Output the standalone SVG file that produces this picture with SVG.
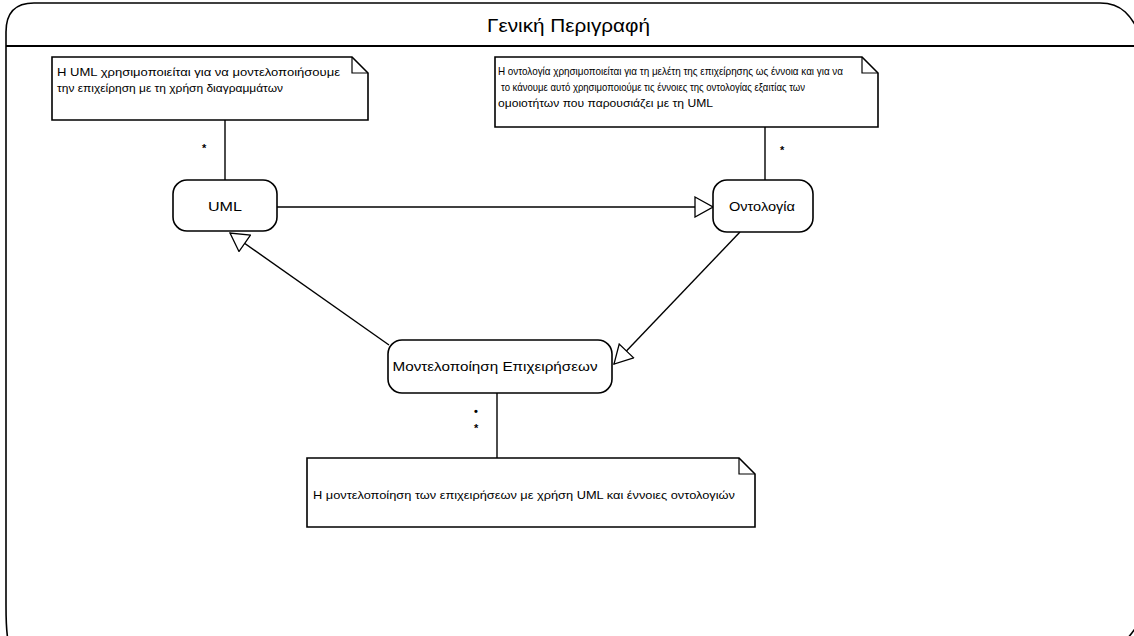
<svg xmlns="http://www.w3.org/2000/svg" width="1134" height="636" viewBox="0 0 1134 636">
  <style>
    .frame { fill: none; stroke: #000; stroke-width: 1.6; }
    .note { fill: #fff; stroke: #000; stroke-width: 1.6; }
    .fold { fill: none; stroke: #000; stroke-width: 1.2; }
    .node { fill: #fff; stroke: #000; stroke-width: 1.6; }
    .link { fill: none; stroke: #000; stroke-width: 1.4; }
    .txt { font-family: "Liberation Sans", Arial, sans-serif; fill: #000; }
    .ntxt { font-size: 11.5px; }
    .ctxt { font-size: 13.5px; text-anchor: middle; }
    .mult { font-family: "Liberation Sans", Arial, sans-serif; font-size: 11px; font-weight: bold; }
  </style>
  <defs>
    <marker id="gen" viewBox="0 0 20 22" refX="19" refY="11" markerWidth="20" markerHeight="22" markerUnits="userSpaceOnUse" orient="auto">
      <path d="M1,1 L19,11 L1,21 Z" fill="#fff" stroke="#000" stroke-width="1.3"/>
    </marker>
  </defs>

  <rect width="1134" height="636" fill="#fff"/>

  <!-- outer frame with title compartment -->
  <g id="frame">
    <path class="frame" d="M8,640 Q6,630 6,605 L6,32 Q6,3 34,3 L1100,3 C1120,3 1132,12 1146,48 L1148,600 C1142,622 1132,634 1124,642"/>
    <line x1="6" y1="46" x2="1134" y2="46" stroke="#000" stroke-width="2"/>
    <text class="txt" x="487" y="32" font-size="18" textLength="163" lengthAdjust="spacingAndGlyphs">Γενική Περιγραφή</text>
  </g>

  <!-- connectors -->
  <g id="connectors">
    <line class="link" x1="225" y1="120" x2="225" y2="180"/>
    <text class="mult" x="202" y="152">*</text>
    <line class="link" x1="765" y1="127" x2="765" y2="180"/>
    <text class="mult" x="780" y="154">*</text>
    <line class="link" x1="497" y1="393" x2="497" y2="458"/>
    <text class="mult" x="474" y="415">•</text>
    <text class="mult" x="474" y="432">*</text>
    <line class="link" x1="277" y1="207" x2="713" y2="207" marker-end="url(#gen)"/>
    <line class="link" x1="740" y1="232" x2="614" y2="364" marker-end="url(#gen)"/>
    <line class="link" x1="389" y1="345" x2="230" y2="233" marker-end="url(#gen)"/>
  </g>

  <!-- note: UML -->
  <g id="note-uml">
    <path class="note" d="M52,57 H352 L368,73 V120 H52 Z"/>
    <path class="fold" d="M352,57 V73 H368"/>
    <text class="txt ntxt" x="57" y="76" textLength="283" lengthAdjust="spacingAndGlyphs">Η UML χρησιμοποιείται για να μοντελοποιήσουμε</text>
    <text class="txt ntxt" x="57" y="92" textLength="226" lengthAdjust="spacingAndGlyphs">την επιχείρηση με τη χρήση διαγραμμάτων</text>
  </g>

  <!-- note: ontology -->
  <g id="note-ontology">
    <path class="note" d="M495,57 H862 L878,73 V127 H495 Z"/>
    <path class="fold" d="M862,57 V73 H878"/>
    <text class="txt ntxt" x="498" y="75" textLength="345" lengthAdjust="spacingAndGlyphs">Η οντολογία χρησιμοποιείται για τη μελέτη της επιχείρησης ως έννοια και για να</text>
    <text class="txt ntxt" x="501" y="91" textLength="304" lengthAdjust="spacingAndGlyphs">το κάνουμε αυτό χρησιμοποιούμε τις έννοιες της οντολογίας εξαιτίας των</text>
    <text class="txt ntxt" x="498" y="107" textLength="215" lengthAdjust="spacingAndGlyphs">ομοιοτήτων που παρουσιάζει με τη UML</text>
  </g>

  <!-- note: business modelling -->
  <g id="note-modelling">
    <path class="note" d="M307,458 H739 L755,474 V527 H307 Z"/>
    <path class="fold" d="M739,458 V474 H755"/>
    <text class="txt ntxt" x="313" y="499" font-size="12" textLength="422" lengthAdjust="spacingAndGlyphs">Η μοντελοποίηση των επιχειρήσεων με χρήση UML και έννοιες οντολογιών</text>
  </g>

  <!-- node: UML -->
  <g id="node-uml">
    <rect class="node" x="173" y="180" width="104" height="51" rx="14"/>
    <text class="txt ctxt" x="225" y="211" textLength="34" lengthAdjust="spacingAndGlyphs">UML</text>
  </g>

  <!-- node: Οντολογία -->
  <g id="node-ontology">
    <rect class="node" x="713" y="180" width="100" height="52" rx="14"/>
    <text class="txt ctxt" x="762" y="211" textLength="66" lengthAdjust="spacingAndGlyphs">Οντολογία</text>
  </g>

  <!-- node: Μοντελοποίηση Επιχειρήσεων -->
  <g id="node-modelling">
    <rect class="node" x="388" y="340" width="224" height="53" rx="14"/>
    <text class="txt ctxt" x="495" y="371" textLength="205" lengthAdjust="spacingAndGlyphs">Μοντελοποίηση Επιχειρήσεων</text>
  </g>
</svg>
